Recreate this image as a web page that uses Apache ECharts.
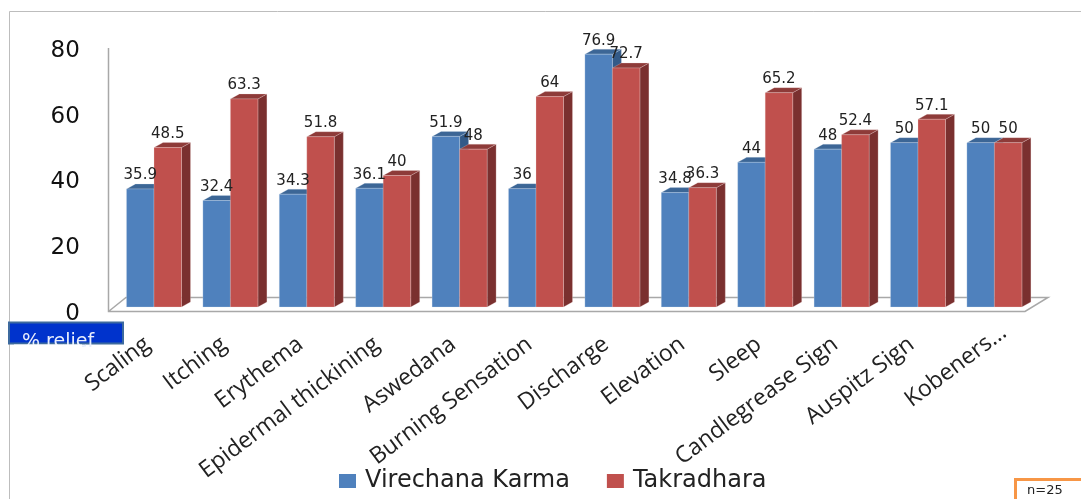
<!DOCTYPE html>
<html>
<head>
<meta charset="utf-8">
<style>
  html, body { margin: 0; padding: 0; background: #fff; overflow: hidden; }
  #chart { width: 1081px; height: 499px; }
</style>
<script src="https://cdn.jsdelivr.net/npm/echarts@6/dist/echarts.min.js"></script>
</head>
<body>
<div id="chart"></div>
<script>
const categories = ['Scaling', 'Itching', 'Erythema', 'Epidermal thickining', 'Aswedana', 'Burning Sensation',
  'Discharge', 'Elevation', 'Sleep', 'Candlegrease Sign', 'Auspitz Sign', 'Kobeners...'];
const virechana = [35.9, 32.4, 34.3, 36.1, 51.9, 36, 76.9, 34.8, 44, 48, 50, 50];
const takradhara = [48.5, 63.3, 51.8, 40, 48, 64, 72.7, 36.3, 65.2, 52.4, 57.1, 50];
const yTicks = [0, 20, 40, 60, 80];

const chart = echarts.init(document.getElementById('chart'));

const labelFont = '"DejaVu Sans", sans-serif';
const depthX = 9;
const depthY = 5;

// bars with a fake 3d side and top, the sign picks which half of the band
function bar3d(side, face, top, edge, order) {
  return function (params, api) {
    const base = api.coord([api.value(0), 0]);
    const head = api.coord([api.value(0), api.value(1)]);
    const w = api.size([1, 0])[0] * 0.36;
    const x0 = side < 0 ? base[0] - w : base[0];
    const x1 = x0 + w;
    const poly = (points, fill) => ({
      type: 'polygon',
      z2: order,
      shape: { points: points },
      style: { fill: fill, stroke: edge, lineWidth: 0.5 }
    });
    return {
      type: 'group',
      children: [
        poly([[x1, base[1]], [x1 + depthX, base[1] - depthY], [x1 + depthX, head[1] - depthY], [x1, head[1]]], top[1]),
        poly([[x0, head[1]], [x0 + depthX, head[1] - depthY], [x1 + depthX, head[1] - depthY], [x1, head[1]]], top[0]),
        poly([[x0, base[1]], [x0, head[1]], [x1, head[1]], [x1, base[1]]], face),
        {
          type: 'text',
          z2: 10,
          style: {
            x: (x0 + x1) / 2,
            y: head[1] - 13.5,
            text: String(api.value(1)),
            align: 'center',
            verticalAlign: 'middle',
            fill: '#222',
            font: '15px ' + labelFont
          }
        }
      ]
    };
  };
}

chart.setOption({
  animation: false,
  backgroundColor: '#fff',
  grid: { left: 115.8, top: 44, width: 916.8, height: 263 },
  legend: {
    left: 334,
    top: 464,
    itemWidth: 17,
    itemHeight: 14,
    itemGap: 37,
    textStyle: { fontFamily: labelFont, fontSize: 24, color: '#222', padding: [0, 0, 0, 4] },
    data: [
      { name: 'Virechana Karma', icon: 'rect', itemStyle: { color: '#4f81bd' } },
      { name: 'Takradhara', icon: 'rect', itemStyle: { color: '#c0504d' } }
    ]
  },
  xAxis: {
    type: 'category',
    // the truncated last label sits further up the slant than the others
    data: categories.map((c, i) => i === categories.length - 1 ? { value: c, textStyle: { padding: [0, -12, 0, 0] } } : c),
    axisLine: { show: false },
    axisTick: { show: false },
    axisLabel: {
      interval: 0,
      rotate: 37,
      margin: 30,
      padding: [0, 8, 0, 0],
      fontFamily: '"Open Sans", sans-serif',
      fontSize: 23,
      color: '#222'
    }
  },
  yAxis: {
    type: 'value',
    min: yTicks[0],
    max: yTicks[yTicks.length - 1],
    interval: yTicks[1] - yTicks[0],
    splitLine: { show: false },
    axisLine: { show: false },
    axisTick: { show: false },
    axisLabel: {
      margin: 36,
      fontFamily: labelFont,
      fontSize: 23,
      color: '#111',
      verticalAlign: 'top',
      lineHeight: 14
    }
  },
  series: [
    {
      name: 'Virechana Karma',
      type: 'custom',
      renderItem: bar3d(-1, '#4f81bd', ['#3c6696', '#335a88'], 'rgba(220,230,245,0.5)', 1),
      encode: { x: 0, y: 1 },
      data: virechana.map((v, i) => [i, v]),
      clip: false,
      z: 2
    },
    {
      name: 'Takradhara',
      type: 'custom',
      renderItem: bar3d(1, '#c0504d', ['#8e3b39', '#7a302f'], 'rgba(245,225,225,0.5)', 2),
      encode: { x: 0, y: 1 },
      data: takradhara.map((v, i) => [i, v]),
      clip: false,
      z: 2
    }
  ],
  graphic: [
    // outer frame, only top and left edges are in the crop
    { type: 'polyline', z: 0, shape: { points: [[9.5, 499], [9.5, 11.5], [1081, 11.5]] }, style: { fill: null, stroke: '#bdbdbd', lineWidth: 1 } },
    // wall and floor
    { type: 'polyline', z: 0, shape: { points: [[108.5, 48], [108.5, 311.5], [1025, 311.5], [1048, 297.5], [126, 297.5], [108.5, 311.5]] }, style: { fill: null, stroke: '#a8a8a8', lineWidth: 1.5 } },
    // % relief box, its text runs past the bottom edge
    { type: 'rect', z: 19, shape: { x: 9, y: 322.5, width: 114, height: 21 }, style: { fill: '#0033cc', stroke: '#3d6a9e', lineWidth: 2 } },
    { type: 'text', z: 20, style: { x: 22, y: 352, text: '% relief', fill: '#e8eefc', font: '19px "DejaVu Sans", sans-serif', verticalAlign: 'bottom' } },
    { type: 'rect', z: 21, shape: { x: 14, y: 344.5, width: 68, height: 12 }, style: { fill: '#fff' } },
    // n=25 box, cut by the window
    { type: 'rect', z: 19, shape: { x: 1015.5, y: 479.5, width: 90, height: 40 }, style: { fill: '#fff', stroke: '#f79646', lineWidth: 3 } },
    { type: 'text', z: 20, style: { x: 1027, y: 491, text: 'n=25', fill: '#222', font: '13px "DejaVu Sans", sans-serif', verticalAlign: 'middle' } }
  ]
});
</script>
</body>
</html>
